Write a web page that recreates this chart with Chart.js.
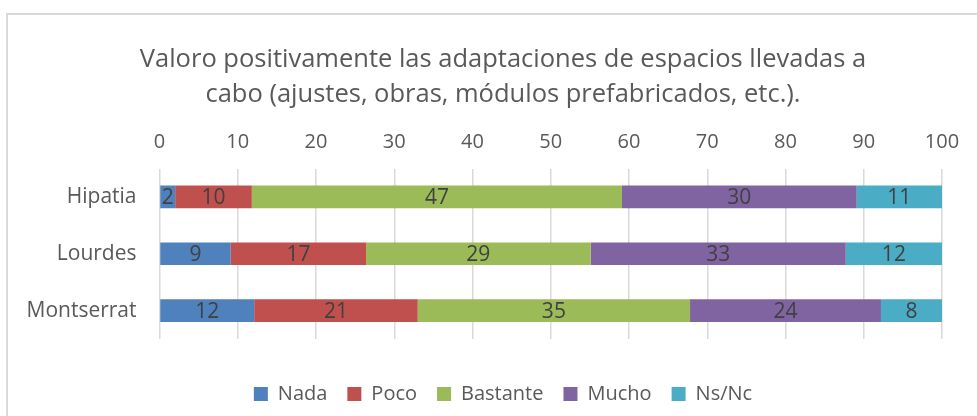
<!DOCTYPE html>
<html lang="es">

<head>
  <meta charset="UTF-8">
  <title>Adaptaciones de espacios</title>
  <script src="https://cdn.jsdelivr.net/npm/chart.js"></script>
  <style>
    html, body { margin: 0; padding: 0; background: #fff; overflow: hidden; }
    .frame {
      position: absolute; left: 6px; top: 13px;
      width: 1000px; height: 420px;
      border: 2px solid #d9d9d9; box-sizing: border-box;
    }
    .wrap { position: absolute; left: 0; top: 0; width: 977px; height: 416px; }
  </style>
</head>

<body>
  <div class="frame"></div>
  <div class="wrap">
    <canvas id="chart" width="977" height="416"></canvas>
  </div>

  <script>
    const categories = ['Hipatia', 'Lourdes', 'Montserrat'];
    const seriesNames = ['Nada', 'Poco', 'Bastante', 'Mucho', 'Ns/Nc'];
    // percentage per person, in order Hipatia, Lourdes, Montserrat
    const nada = [2.0, 9.1, 12.1];
    const poco = [9.8, 17.3, 20.9];
    const bastante = [47.3, 28.7, 34.8];
    const mucho = [30.0, 32.6, 24.4];
    const nsnc = [10.9, 12.3, 7.8];
    const xTicks = [0, 10, 20, 30, 40, 50, 60, 70, 80, 90, 100];

    const colors = ['#4f81bd', '#c0504d', '#9bbb59', '#8064a2', '#4bacc6'];
    const textColor = '#595959';
    const fontFamily = "'Open Sans', 'Noto Sans', sans-serif";

    // draws the rounded value in the middle of each segment
    const valueLabels = {
      id: 'valueLabels',
      afterDatasetsDraw(chart) {
        const ctx = chart.ctx;
        ctx.save();
        ctx.font = '21px ' + fontFamily;
        ctx.fillStyle = '#404040';
        ctx.textAlign = 'center';
        ctx.textBaseline = 'middle';
        chart.data.datasets.forEach((ds, i) => {
          chart.getDatasetMeta(i).data.forEach((bar, j) => {
            const mid = (bar.x + bar.base) / 2;
            ctx.fillText(Math.round(ds.data[j]), mid, bar.y + 1);
          });
        });
        ctx.restore();
      }
    };

    // the y axis is kept narrow so title and legend centre like the original,
    // stretch its box to the left edge so the category names are not clipped
    const wideLabels = {
      id: 'wideLabels',
      afterLayout(chart) {
        chart.scales.y.left = 0;
      }
    };

    const ctx = document.getElementById('chart').getContext('2d');
    new Chart(ctx, {
      type: 'bar',
      data: {
        labels: categories,
        datasets: [nada, poco, bastante, mucho, nsnc].map((d, i) => ({
          label: seriesNames[i],
          data: d,
          backgroundColor: colors[i],
          borderWidth: 0,
          barPercentage: 0.4,
          categoryPercentage: 1
        }))
      },
      options: {
        indexAxis: 'y',
        responsive: false,
        animation: false,
        layout: { padding: { left: 64, right: 35, top: 20, bottom: 2 } },
        scales: {
          x: {
            position: 'top',
            stacked: true,
            min: 0,
            max: 100,
            afterBuildTicks: axis => { axis.ticks = xTicks.map(v => ({ value: v })); },
            ticks: { color: textColor, font: { family: fontFamily, size: 20 }, padding: 14 },
            grid: { color: '#d9d9d9', lineWidth: 1.5, drawTicks: false },
            border: { display: false }
          },
          y: {
            stacked: true,
            afterFit: axis => { axis.width = 95.5; },
            ticks: { color: textColor, font: { family: fontFamily, size: 21 }, padding: 23 },
            grid: { display: false, drawTicks: false },
            border: { display: false }
          }
        },
        plugins: {
          title: {
            display: true,
            text: ['Valoro positivamente las adaptaciones de espacios llevadas a',
                   'cabo (ajustes, obras, módulos prefabricados, etc.).'],
            color: textColor,
            font: { family: fontFamily, size: 25.5, weight: 'normal', lineHeight: 35 / 25.5 },
            padding: { top: 22.5, bottom: 4 }
          },
          legend: {
            position: 'bottom',
            title: { display: true, text: '', font: { size: 1 }, padding: { top: 0, bottom: 23.8 } },
            labels: {
              color: textColor,
              font: { family: fontFamily, size: 20 },
              boxWidth: 14,
              boxHeight: 14,
              padding: 20
            }
          },
          tooltip: { enabled: false }
        }
      },
      plugins: [valueLabels, wideLabels]
    });
  </script>
</body>

</html>
